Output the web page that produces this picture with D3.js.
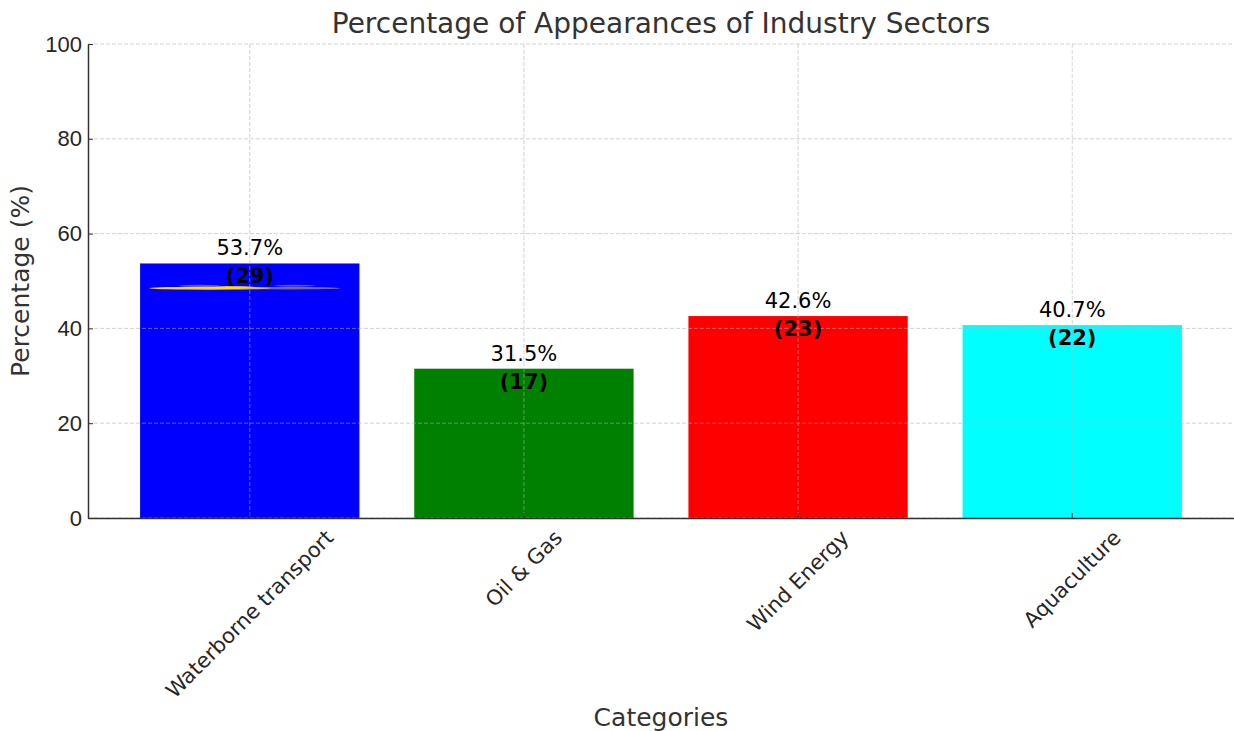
<!DOCTYPE html>
<html>
<head>
<meta charset="utf-8">
<script src="https://cdn.jsdelivr.net/npm/d3@7"></script>
<style>
  html, body { margin: 0; padding: 0; background: #fff; }
  svg { display: block; font-family: "DejaVu Sans", sans-serif; }
</style>
</head>
<body>
<svg id="chart" width="1234" height="731"></svg>
<script>
'use strict';

var categories = ["Waterborne transport", "Oil & Gas", "Wind Energy", "Aquaculture"];
var percentages = [53.7, 31.5, 42.6, 40.7];
var counts = [29, 17, 23, 22];
var barColors = ["#0000ff", "#008000", "#ff0000", "#00ffff"];
var yTicks = [0, 20, 40, 60, 80, 100];

var plotLeft = 88, plotRight = 1234, plotTop = 44, plotBottom = 518;

var svg = d3.select('#chart');

var x = d3.scaleBand()
	.domain(categories)
	.range([plotLeft, plotRight])
	.paddingInner(0.2)
	.paddingOuter(0.19);
var y = d3.scaleLinear().domain([0, 100]).range([plotBottom, plotTop]);

// bars
svg.append('g').selectAll('rect')
	.data(categories)
	.join('rect')
	.attr('x', function (d) { return x(d); })
	.attr('width', x.bandwidth())
	.attr('y', function (d, i) { return y(percentages[i]); })
	.attr('height', function (d, i) { return y(0) - y(percentages[i]); })
	.attr('fill', function (d, i) { return barColors[i]; });

// the little yellow smear inside the first bar
var defs = svg.append('defs');
defs.append('filter').attr('id', 'blur').append('feGaussianBlur').attr('stdDeviation', '1.2 0.6');
var cx0 = x(categories[0]) + x.bandwidth() / 2;
var sy = y(48.6);
var smear = svg.append('g').attr('filter', 'url(#blur)');
smear.append('ellipse').attr('cx', cx0 - 40).attr('cy', sy + 0.5).attr('rx', 60).attr('ry', 1.6).attr('fill', '#ffd700');
smear.append('ellipse').attr('cx', cx0 - 15).attr('cy', sy).attr('rx', 25).attr('ry', 1.4).attr('fill', '#ffe000');
smear.append('ellipse').attr('cx', cx0 + 40).attr('cy', sy + 0.5).attr('rx', 50).attr('ry', 1.3).attr('fill', '#c8b040').attr('opacity', 0.6);
smear.append('ellipse').attr('cx', cx0 - 50).attr('cy', sy - 2).attr('rx', 20).attr('ry', 0.8).attr('fill', '#c8b040').attr('opacity', 0.5);
smear.append('ellipse').attr('cx', cx0 + 45).attr('cy', sy - 2).attr('rx', 20).attr('ry', 0.8).attr('fill', '#c8b040').attr('opacity', 0.5);

// grid on top
var grid = svg.append('g')
	.attr('stroke', '#b0b0b0')
	.attr('stroke-opacity', 0.7)
	.attr('stroke-width', 0.8)
	.attr('stroke-dasharray', '4,2');
grid.selectAll('.hg').data(yTicks).join('line')
	.attr('x1', plotLeft).attr('x2', plotRight)
	.attr('y1', function (d) { return y(d); }).attr('y2', function (d) { return y(d); });
grid.selectAll('.vg').data(categories).join('line')
	.attr('x1', function (d) { return x(d) + x.bandwidth() / 2; })
	.attr('x2', function (d) { return x(d) + x.bandwidth() / 2; })
	.attr('y1', plotTop).attr('y2', plotBottom);

// axes
var yAxis = svg.append('g')
	.attr('transform', 'translate(' + plotLeft + ',0)')
	.call(d3.axisLeft(y).tickValues(yTicks).tickSizeInner(-5).tickSizeOuter(0).tickPadding(6));
yAxis.select('.domain').attr('stroke', '#333').attr('stroke-width', 1.5);
yAxis.selectAll('.tick line').attr('stroke', '#333');
yAxis.selectAll('.tick text').attr('fill', '#262626').attr('font-size', 22);

var xAxis = svg.append('g')
	.attr('transform', 'translate(0,' + plotBottom + ')')
	.call(d3.axisBottom(x).tickSizeInner(-5).tickSizeOuter(0).tickFormat(''));
xAxis.select('.domain').attr('stroke', '#333').attr('stroke-width', 1.5);
xAxis.selectAll('.tick line').attr('stroke', '#333');

// rotated category labels, centred on tick, top of box at 527
svg.append('g').selectAll('text')
	.data(categories)
	.join('text')
	.attr('font-size', 21)
	.attr('fill', '#262626')
	.attr('text-anchor', 'middle')
	.attr('dominant-baseline', 'central')
	.text(function (d) { return d; })
	.each(function (d) {
		var L = this.getComputedTextLength();
		var h = 20;
		var bh = (L + h) * Math.SQRT1_2;
		var cx = x(d) + x.bandwidth() / 2;
		var cy = 527 + bh / 2;
		d3.select(this).attr('transform', 'translate(' + cx + ',' + cy + ') rotate(-45)');
	});

// value labels
var ann = svg.append('g').attr('text-anchor', 'middle').attr('fill', '#000');
ann.selectAll('.pct').data(categories).join('text')
	.attr('font-size', 21)
	.attr('x', function (d) { return x(d) + x.bandwidth() / 2; })
	.attr('y', function (d, i) { return y(percentages[i]) - 8; })
	.text(function (d, i) { return percentages[i].toFixed(1) + '%'; });
ann.selectAll('.cnt').data(categories).join('text')
	.attr('font-size', 21)
	.attr('font-weight', 'bold')
	.attr('x', function (d) { return x(d) + x.bandwidth() / 2; })
	.attr('y', function (d, i) { return y(percentages[i]) + 20; })
	.text(function (d, i) { return '(' + counts[i] + ')'; });

// title and axis titles
svg.append('text')
	.attr('x', 661).attr('y', 33)
	.attr('text-anchor', 'middle')
	.attr('font-size', 28)
	.attr('fill', '#333')
	.text('Percentage of Appearances of Industry Sectors');
svg.append('text')
	.attr('x', 661).attr('y', 726)
	.attr('text-anchor', 'middle')
	.attr('font-size', 25)
	.attr('fill', '#333')
	.text('Categories');
svg.append('text')
	.attr('transform', 'translate(29,281) rotate(-90)')
	.attr('text-anchor', 'middle')
	.attr('font-size', 25)
	.attr('fill', '#333')
	.text('Percentage (%)');
</script>
</body>
</html>
